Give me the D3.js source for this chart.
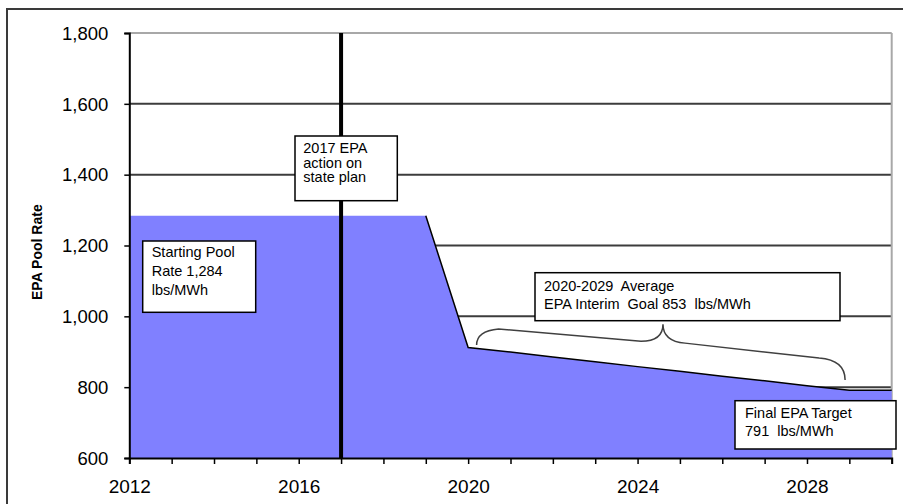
<!DOCTYPE html>
<html>
<head>
<meta charset="utf-8">
<script src="https://cdn.jsdelivr.net/npm/d3@7"></script>
<style>
	body { margin: 0; background: #fff; }
	text { font-family: "Liberation Sans", Arial, sans-serif; fill: #000; }
</style>
</head>
<body>
<svg id="chart"></svg>
<script>
// values
var years = [2012, 2013, 2014, 2015, 2016, 2017, 2018, 2019, 2020, 2021,
             2022, 2023, 2024, 2025, 2026, 2027, 2028, 2029, 2030];
var poolRate = [1284, 1284, 1284, 1284, 1284, 1284, 1284, 1284, 912, 899,
                885, 872, 858, 845, 831, 818, 804, 791, 791];
var yTicks = [600, 800, 1000, 1200, 1400, 1600, 1800];
var xTickLabels = [2012, 2016, 2020, 2024, 2028];
var actionYear = 2017;
var braceFrom = [2020.2, 919];
var braceTip = [2024.6, 978];
var braceTo = [2028.9, 820];

var noteAction = ["2017 EPA", "action on", "state plan"];
var noteStart = ["Starting Pool", "Rate 1,284", "lbs/MWh"];
var noteInterim = ["2020-2029  Average", "EPA Interim  Goal 853  lbs/MWh"];
var noteFinal = ["Final EPA Target", "791  lbs/MWh"];

(function() {
	var width = 903, height = 504;
	var margin = {top: 33, right: 11.3, bottom: 46, left: 129.3};
	var w = width - margin.left - margin.right;
	var h = height - margin.top - margin.bottom;

	var svg = d3.select("#chart")
		.attr("width", width)
		.attr("height", height);

	// outer chart frame
	svg.append("rect")
		.attr("x", 7).attr("y", 9)
		.attr("width", 920).attr("height", 520)
		.attr("fill", "none")
		.attr("stroke", "#3a3a3a")
		.attr("stroke-width", 2);

	var g = svg.append("g")
		.attr("transform", "translate(" + margin.left + "," + margin.top + ")");

	var x = d3.scaleLinear().domain([2012, 2030]).range([0, w]);
	var y = d3.scaleLinear().domain([600, 1800]).range([h, 0]);

	// gridlines
	g.selectAll(".grid").data(yTicks.filter(function(d) { return d > 600; }))
		.enter().append("line")
		.attr("x1", 0).attr("x2", w)
		.attr("y1", function(d) { return y(d); })
		.attr("y2", function(d) { return y(d); })
		.attr("stroke", function(d) { return d == 1800 ? "#a8a8a8" : "#3c3c3c"; })
		.attr("stroke-width", 2);

	// right plot border
	g.append("line")
		.attr("x1", w).attr("x2", w).attr("y1", 0).attr("y2", h)
		.attr("stroke", "#a8a8a8").attr("stroke-width", 2);

	var pts = years.map(function(d, i) { return [d, poolRate[i]]; });

	var area = d3.area()
		.x(function(d) { return x(d[0]); })
		.y0(h)
		.y1(function(d) { return y(d[1]); });
	g.append("path")
		.datum(pts)
		.attr("d", area)
		.attr("fill", "#8080ff");

	var line = d3.line()
		.x(function(d) { return x(d[0]); })
		.y(function(d) { return y(d[1]); });
	g.append("path")
		.datum(pts.filter(function(d) { return d[0] >= 2019; }))
		.attr("d", line)
		.attr("fill", "none")
		.attr("stroke", "#000")
		.attr("stroke-width", 1.5);

	// 2017 action line
	g.append("line")
		.attr("x1", x(actionYear)).attr("x2", x(actionYear))
		.attr("y1", 0).attr("y2", h)
		.attr("stroke", "#000").attr("stroke-width", 4);

	// axes
	var yAxis = d3.axisLeft(y).tickValues(yTicks).tickSize(5).tickPadding(16)
		.tickFormat(d3.format(","));
	var ya = g.append("g").call(yAxis);
	ya.select(".domain").attr("stroke", "#000").attr("stroke-width", 2);
	ya.selectAll(".tick line").attr("stroke", "#000").attr("stroke-width", 1.5);
	ya.selectAll(".tick text").attr("font-size", 18.5).attr("dy", "0.34em");

	var xAxis = d3.axisBottom(x).tickValues(years).tickSize(6).tickPadding(16)
		.tickFormat(function(d) { return xTickLabels.indexOf(d) >= 0 ? d : ""; });
	var xa = g.append("g").attr("transform", "translate(0," + h + ")").call(xAxis);
	xa.select(".domain").attr("stroke", "#000").attr("stroke-width", 2);
	xa.selectAll(".tick line").attr("stroke", "#000").attr("stroke-width", 1.5);
	xa.selectAll(".tick text").attr("font-size", 19).attr("dy", "0.71em");
	ya.attr("font-family", null); xa.attr("font-family", null);

	// y axis title
	svg.append("text")
		.attr("transform", "translate(42,300) rotate(-90)")
		.attr("font-size", 14)
		.attr("font-weight", "bold")
		.text("EPA Pool Rate");

	// brace under interim goal box
	var s = [x(braceFrom[0]), y(braceFrom[1])];
	var t = [x(braceTip[0]), y(braceTip[1])];
	var e = [x(braceTo[0]), y(braceTo[1])];
	var bp = d3.path();
	bp.moveTo(s[0], s[1]);
	bp.quadraticCurveTo(s[0], s[1] - 14, s[0] + 22, s[1] - 16);
	bp.lineTo(t[0] - 22, t[1] + 17);
	bp.quadraticCurveTo(t[0], t[1] + 17, t[0], t[1]);
	bp.quadraticCurveTo(t[0], t[1] + 17, t[0] + 22, t[1] + 19);
	bp.lineTo(e[0] - 26, e[1] - 22);
	bp.quadraticCurveTo(e[0], e[1] - 20, e[0], e[1]);
	g.append("path")
		.attr("d", bp.toString())
		.attr("fill", "none")
		.attr("stroke", "#404040")
		.attr("stroke-width", 1.5);

	// annotation boxes
	function note(lines, left, top, bw, bh, pad, first, step) {
		var n = g.append("g").attr("transform", "translate(" + left + "," + top + ")");
		n.append("rect")
			.attr("width", bw).attr("height", bh)
			.attr("fill", "#fff")
			.attr("stroke", "#000")
			.attr("stroke-width", 1.5);
		n.selectAll("text").data(lines).enter().append("text")
			.attr("x", pad)
			.attr("y", function(d, i) { return first + i * step; })
			.attr("font-size", 14.5)
			.style("white-space", "pre")
			.text(function(d) { return d; });
	}
	note(noteAction, 165.7, 103, 102.3, 64.7, 8.3, 17, 14.5);
	note(noteStart, 13.4, 208, 113, 71.3, 9, 16, 19);
	note(noteInterim, 405.7, 239.7, 305, 48, 9, 18, 18.5);
	note(noteFinal, 605.7, 367.7, 161, 48.3, 10, 17.6, 18.2);
})();
</script>
</body>
</html>
